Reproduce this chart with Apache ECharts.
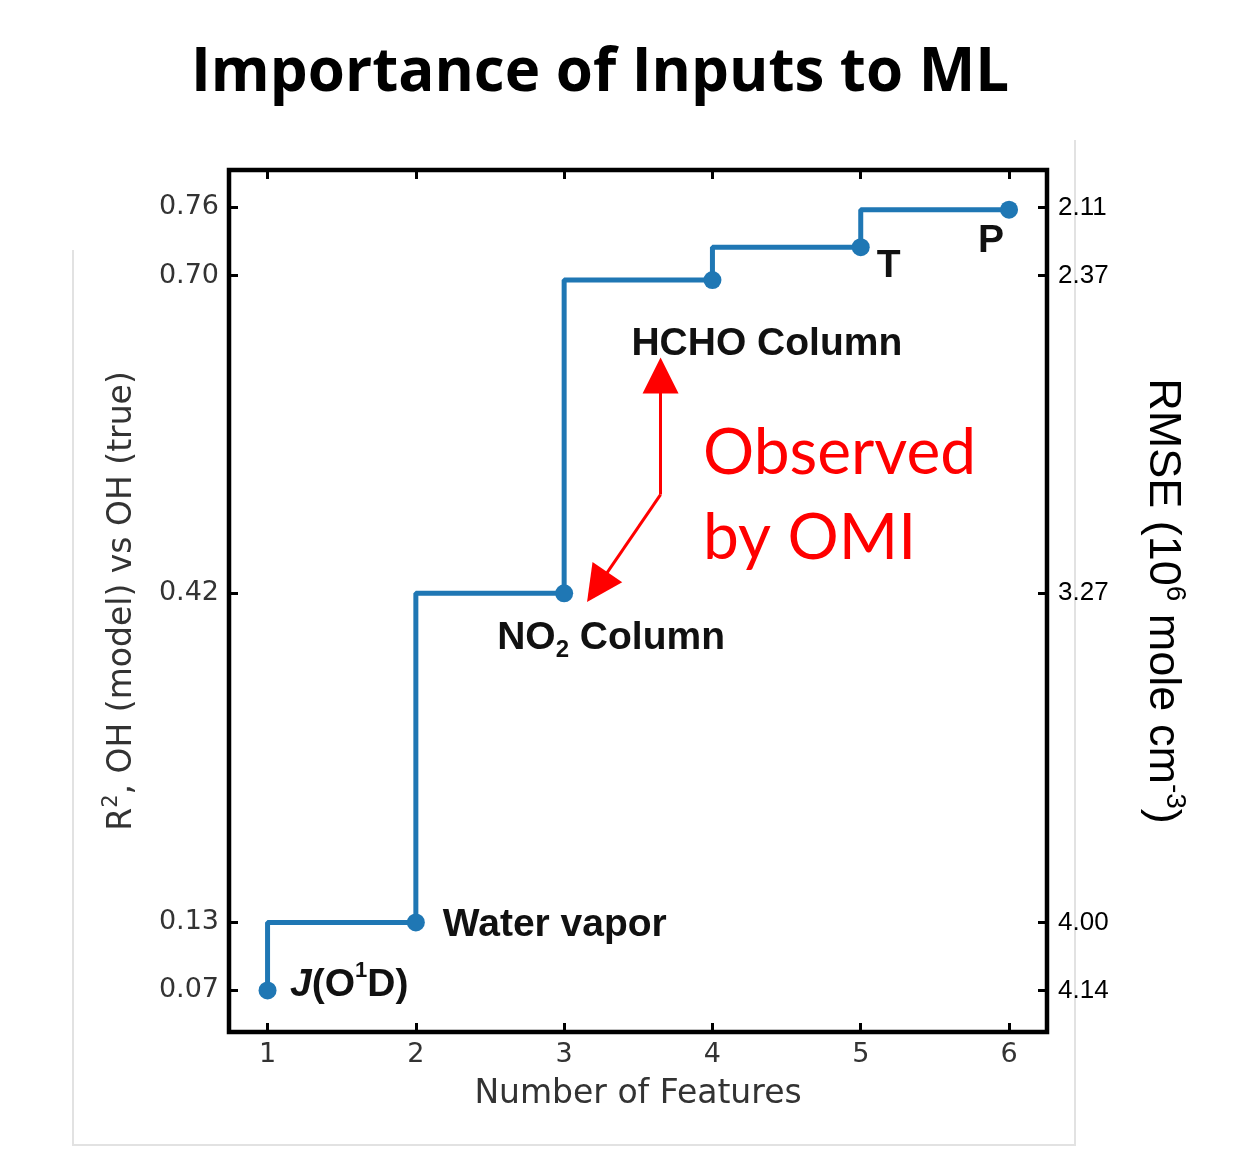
<!DOCTYPE html>
<html>
<head>
<meta charset="utf-8">
<script src="https://cdn.jsdelivr.net/npm/echarts@6/dist/echarts.min.js"></script>
<style>
html,body{margin:0;padding:0;background:#fff;}
#chart{width:1250px;height:1168px;}
</style>
</head>
<body>
<div id="chart"></div>
<script>
// ---- data ----
const titleText = 'Importance of Inputs to ML';
const features = [1, 2, 3, 4, 5, 6];
const r2Values = [0.07, 0.13, 0.42, 0.696, 0.725, 0.758];
const featureLabels = [
  '{i|J}{b|(O}{sup|1}{b|D)}',
  '{b|Water vapor}',
  '{b|NO}{sub|2}{b| Column}',
  '{b|HCHO Column}',
  '{b|T}',
  '{b|P}'
];
const xTicks = [1, 2, 3, 4, 5, 6];
const r2Ticks = [0.07, 0.13, 0.42, 0.70, 0.76];
const rmseTickLabels = ['4.14', '4.00', '3.27', '2.37', '2.11'];
const xName = 'Number of Features';
const leftName = 'R{sup|2}, OH (model) vs OH (true)';
const rightName = 'RMSE (10{sup|6} mole cm{sup|-3})';
const noteText = 'Observed\nby OMI';

// ---- annotation anchors (data units) ----
const noteAnchor = [3.937, 0.5062];
const arrowStart = [3.65, 0.507];
const arrowEnds = [[3.65, 0.612], [3.223, 0.4255]];

// ---- label placement (style, not data) ----
const labelPlace = [
  {align: 'left', offset: [22.5, -5.5]},
  {align: 'left', offset: [27, 2.5]},
  {align: 'left', offset: [-67, 44.5]},
  {align: 'left', offset: [-81, 64]},
  {align: 'center', offset: [28, 19]},
  {align: 'center', offset: [-18, 32]}
];

const boldFont = {fontFamily: 'Liberation Sans', fontWeight: 'bold', fontSize: 39, color: '#111', lineHeight: 50};
const richLabel = {
  b: boldFont,
  i: Object.assign({}, boldFont, {fontStyle: 'italic'}),
  sup: {fontFamily: 'Liberation Sans', fontWeight: 'bold', fontSize: 22, color: '#111', lineHeight: 36, verticalAlign: 'top'},
  sub: {fontFamily: 'Liberation Sans', fontWeight: 'bold', fontSize: 24, color: '#111', lineHeight: 24, verticalAlign: 'bottom'}
};

const xMin = 0.740, xMax = 6.256;
const yMin = 0.0334, yMax = 0.7930;

const seriesData = features.map((f, i) => ({
  value: [f, r2Values[i]],
  label: {
    show: true,
    position: 'inside',
    align: labelPlace[i].align,
    verticalAlign: 'middle',
    offset: labelPlace[i].offset,
    formatter: featureLabels[i],
    rich: richLabel
  }
}));

function rmseFor(v) {
  const k = r2Ticks.findIndex(t => Math.abs(t - v) < 1e-6);
  return k >= 0 ? rmseTickLabels[k] : '';
}

const tickStyle = {show: true, inside: true, length: 9, lineStyle: {color: '#000', width: 3}};

const chart = echarts.init(document.getElementById('chart'), null, {renderer: 'canvas'});
chart.setOption({
  animation: false,
  backgroundColor: '#fff',
  title: {
    text: titleText,
    left: 186,
    top: 39,
    textStyle: {fontFamily: 'Open Sans', fontWeight: 'bold', fontSize: 60, color: '#000'}
  },
  graphic: [{
    type: 'polyline',
    silent: true,
    z: -1,
    shape: {points: [[73, 250], [73, 1145], [1075, 1145], [1075, 140]]},
    style: {stroke: '#e2e2e2', lineWidth: 2, fill: null}
  }],
  grid: {
    left: 229, right: 203, top: 170, bottom: 136,
    show: true, borderColor: '#000', borderWidth: 4.5, backgroundColor: 'transparent'
  },
  xAxis: [{
    type: 'value', position: 'bottom', min: xMin, max: xMax,
    name: xName, nameLocation: 'middle', nameGap: 46,
    nameTextStyle: {fontFamily: 'DejaVu Sans', fontSize: 33, color: '#333'},
    axisLine: {show: false},
    splitLine: {show: false},
    axisTick: Object.assign({customValues: xTicks}, tickStyle),
    axisLabel: {customValues: xTicks, margin: 9, fontFamily: 'DejaVu Sans', fontSize: 27, color: '#333', formatter: v => String(Math.round(v))}
  }, {
    type: 'value', position: 'top', min: xMin, max: xMax,
    axisLine: {show: false},
    splitLine: {show: false},
    axisTick: Object.assign({customValues: xTicks}, tickStyle),
    axisLabel: {show: false}
  }],
  yAxis: [{
    type: 'value', position: 'left', min: yMin, max: yMax,
    name: leftName, nameLocation: 'middle', nameGap: 86, nameRotate: 90,
    nameTextStyle: {
      fontFamily: 'DejaVu Sans', fontSize: 33, color: '#333', lineHeight: 42,
      rich: {sup: {fontFamily: 'DejaVu Sans', fontSize: 21, color: '#333', lineHeight: 32, verticalAlign: 'top'}}
    },
    axisLine: {show: false},
    splitLine: {show: false},
    axisTick: Object.assign({customValues: r2Ticks}, tickStyle),
    axisLabel: {customValues: r2Ticks, margin: 10, fontFamily: 'DejaVu Sans', fontSize: 27, color: '#333', formatter: v => v.toFixed(2)}
  }, {
    type: 'value', position: 'right', min: yMin, max: yMax,
    name: rightName, nameLocation: 'middle', nameGap: 88, nameRotate: -90,
    nameTextStyle: {
      fontFamily: 'Liberation Sans', fontSize: 45, color: '#000', lineHeight: 54,
      rich: {sup: {fontFamily: 'Liberation Sans', fontSize: 28, color: '#000', lineHeight: 40, verticalAlign: 'top'}}
    },
    axisLine: {show: false},
    splitLine: {show: false},
    axisTick: Object.assign({customValues: r2Ticks}, tickStyle),
    axisLabel: {customValues: r2Ticks, margin: 11, fontFamily: 'Liberation Sans', fontSize: 26, color: '#000', formatter: v => rmseFor(v)}
  }],
  series: [{
    type: 'line',
    xAxisIndex: 0, yAxisIndex: 0,
    step: 'start',
    data: seriesData,
    symbol: 'circle',
    symbolSize: 18,
    itemStyle: {color: '#1f77b4'},
    lineStyle: {color: '#1f77b4', width: 5},
    z: 3,
    markLine: {
      silent: true,
      symbol: ['none', 'triangle'],
      symbolSize: 36,
      lineStyle: {color: '#ff0000', width: 3, type: 'solid'},
      itemStyle: {color: '#ff0000'},
      label: {show: false},
      data: arrowEnds.map(e => [{coord: arrowStart}, {coord: e}])
    },
    markPoint: {
      silent: true,
      symbol: 'circle',
      symbolSize: 1,
      itemStyle: {color: 'transparent'},
      label: {
        show: true,
        position: 'inside',
        align: 'left',
        verticalAlign: 'middle',
        formatter: noteText,
        fontFamily: 'Lato',
        fontSize: 64,
        lineHeight: 85,
        color: '#ff0000'
      },
      data: [{coord: noteAnchor}]
    }
  }]
});
</script>
</body>
</html>
